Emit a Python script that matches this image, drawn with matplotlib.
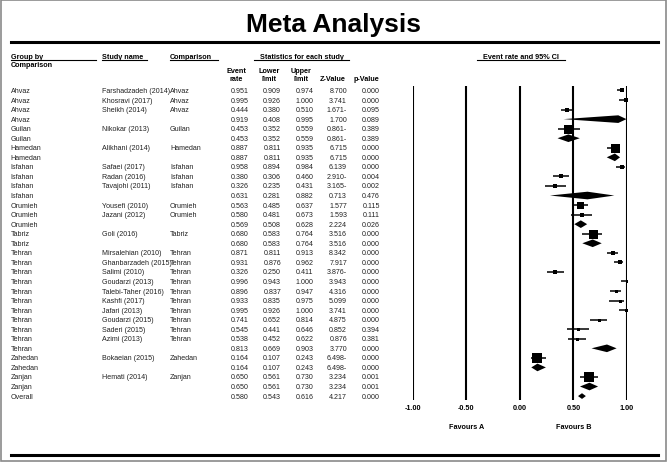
import matplotlib
matplotlib.use("Agg")
import matplotlib.pyplot as plt
from matplotlib import font_manager
from matplotlib.transforms import blended_transform_factory
from matplotlib.patches import Rectangle

plt.rcParams['font.family'] = ['Liberation Sans', 'DejaVu Sans']

# --- data ---
groups = ['Ahvaz', 'Ahvaz', 'Ahvaz', 'Ahvaz', 'Guilan', 'Guilan', 'Hamedan', 'Hamedan',
          'Isfahan', 'Isfahan', 'Isfahan', 'Isfahan', 'Orumieh', 'Orumieh', 'Orumieh',
          'Tabriz', 'Tabriz'] + ['Tehran'] * 11 + ['Zahedan', 'Zahedan', 'Zanjan', 'Zanjan', 'Overall']
studies = ['Farshadzadeh (2014)', 'Khosravi (2017)', 'Sheikh (2014)', '',
           'Nikokar (2013)', '', 'Alikhani (2014)', '',
           'Safaei (2017)', 'Radan (2016)', 'Tavajohi (2011)', '',
           'Yousefi (2010)', 'Jazani (2012)', '', 'Goli (2016)', '',
           'Mirsalehian (2010)', 'Ghanbarzadeh (2015)', 'Salimi (2010)', 'Goudarzi (2013)',
           'Talebi-Taher (2016)', 'Kashfi (2017)', 'Jafari (2013)', 'Goudarzi (2015)',
           'Saderi (2015)', 'Azimi (2013)', '',
           'Bokaeian (2015)', '', 'Hemati (2014)', '', '']
rates = [0.951, 0.995, 0.444, 0.919, 0.453, 0.453, 0.887, 0.887, 0.958, 0.380, 0.326, 0.631,
         0.563, 0.580, 0.569, 0.680, 0.680, 0.871, 0.931, 0.326, 0.996, 0.896, 0.933, 0.995,
         0.741, 0.545, 0.538, 0.813, 0.164, 0.164, 0.650, 0.650, 0.580]
lower = [0.909, 0.926, 0.380, 0.408, 0.352, 0.352, 0.811, 0.811, 0.894, 0.306, 0.235, 0.281,
         0.485, 0.481, 0.508, 0.583, 0.583, 0.811, 0.876, 0.250, 0.943, 0.837, 0.835, 0.926,
         0.652, 0.441, 0.452, 0.669, 0.107, 0.107, 0.561, 0.561, 0.543]
upper = [0.974, 1.000, 0.510, 0.995, 0.559, 0.559, 0.935, 0.935, 0.984, 0.460, 0.431, 0.882,
         0.637, 0.673, 0.628, 0.764, 0.764, 0.913, 0.962, 0.411, 1.000, 0.947, 0.975, 1.000,
         0.814, 0.646, 0.622, 0.903, 0.243, 0.243, 0.730, 0.730, 0.616]
zvals = [8.700, 3.741, -1.671, 1.700, -0.861, -0.861, 6.715, 6.715, 6.139, -2.910, -3.165, 0.713,
         1.577, 1.593, 2.224, 3.516, 3.516, 8.342, 7.917, -3.876, 3.943, 4.316, 5.099, 3.741,
         4.875, 0.852, 0.876, 3.770, -6.498, -6.498, 3.234, 3.234, 4.217]
pvals = [0.000, 0.000, 0.095, 0.089, 0.389, 0.389, 0.000, 0.000, 0.000, 0.004, 0.002, 0.476,
         0.115, 0.111, 0.026, 0.000, 0.000, 0.000, 0.000, 0.000, 0.000, 0.000, 0.000, 0.000,
         0.000, 0.394, 0.381, 0.000, 0.000, 0.000, 0.001, 0.001, 0.000]
# box size (px) of each study square, as drawn
box_px = {'Farshadzadeh (2014)': 5, 'Khosravi (2017)': 4, 'Sheikh (2014)': 5, 'Nikokar (2013)': 9,
          'Alikhani (2014)': 9, 'Safaei (2017)': 5, 'Radan (2016)': 5, 'Tavajohi (2011)': 5,
          'Yousefi (2010)': 7, 'Jazani (2012)': 5, 'Goli (2016)': 9, 'Mirsalehian (2010)': 4,
          'Ghanbarzadeh (2015)': 4, 'Salimi (2010)': 4, 'Goudarzi (2013)': 3,
          'Talebi-Taher (2016)': 3, 'Kashfi (2017)': 3, 'Jafari (2013)': 3, 'Goudarzi (2015)': 3,
          'Saderi (2015)': 3, 'Azimi (2013)': 3, 'Bokaeian (2015)': 10, 'Hemati (2014)': 10}
xticks = [-1.0, -0.5, 0.0, 0.5, 1.0]

W, H = 668, 464
fig = plt.figure(figsize=(W / 100, H / 100), dpi=100)
fig.patch.set_facecolor('white')

bg = fig.add_axes([0, 0, 1, 1])
bg.set_xlim(0, W)
bg.set_ylim(H, 0)
bg.axis('off')

# forest panel: x -1..1 over px 412.7..627, rows -0.5..32.4 over px 86.7..400.7
fx0, fx1, fy0, fy1 = 412.7, 627.0, 86.7, 400.7
fax = fig.add_axes([fx0 / W, 1 - fy1 / H, (fx1 - fx0) / W, (fy1 - fy0) / H])
fax.set_xlim(-1, 1)
fax.set_ylim(32.38, -0.5)
fax.patch.set_alpha(0)
for s in fax.spines.values():
    s.set_visible(False)
fax.set_yticks([])
fax.set_xticks(xticks)
fax.set_xticklabels(['%.2f' % t for t in xticks], fontsize=5.2, fontweight='bold')
fax.tick_params(axis='x', length=0, pad=3.2)
for t in xticks:
    fax.axvline(t, color='black', lw=1.5)

# outer frame and rules
bg.add_patch(Rectangle((1, 1), W - 3, H - 3, fill=False, ec='#8a8a8a', lw=1.2))
bg.plot([10.7, 658], [43, 43], color='black', lw=2.2)
bg.plot([10.7, 658], [456, 456], color='black', lw=2.2)

names = {f.name for f in font_manager.fontManager.ttflist}
if 'Liberation Sans Narrow' in names:
    bg.text(334, 31.7, 'Meta Analysis', fontsize=21.5, fontweight='bold',
            family='Liberation Sans Narrow', ha='center', va='baseline')
else:
    bg.text(334, 31.7, 'Meta Analysis', fontsize=19, fontweight='bold',
            ha='center', va='baseline')

# headers
hs = 5.2
bg.text(10.7, 57.5, 'Group by', fontsize=hs, fontweight='bold', va='center')
bg.text(10.7, 65.5, 'Comparison', fontsize=hs, fontweight='bold', va='center')
bg.text(101.7, 57.5, 'Study name', fontsize=hs, fontweight='bold', va='center')
bg.text(170, 57.5, 'Comparison', fontsize=hs, fontweight='bold', va='center')
bg.text(302, 57.5, 'Statistics for each study', fontsize=hs, fontweight='bold',
        ha='center', va='center')
bg.text(521, 57.5, 'Event rate and 95% CI', fontsize=hs, fontweight='bold',
        ha='center', va='center')
for x0, x1 in [(10.7, 96), (101.7, 147.3), (170, 218.3), (254, 349.3), (477, 565)]:
    bg.plot([x0, x1], [61, 61], color='black', lw=0.8)

col_right = [248.5, 281, 313.5, 347, 380]
sub_top = ['Event', 'Lower', 'Upper', '', '']
sub_bot = ['rate', 'limit', 'limit', 'Z-Value', 'p-Value']
for xr, a, b in zip(col_right, sub_top, sub_bot):
    xc = xr - 12 if a else xr - 14
    bg.text(xc, 71.5, a, fontsize=hs, fontweight='bold', ha='center', va='center')
    bg.text(xc, 79.5, b, fontsize=hs, fontweight='bold', ha='center', va='center')

# table rows
tr = blended_transform_factory(bg.transData, fax.transData)
ds = 5.1
tc = '#222222'
for i in range(len(rates)):
    z = zvals[i]
    zs = '%.3f-' % abs(z) if z < 0 else '%.3f' % z
    cells = ['%.3f' % rates[i], '%.3f' % lower[i], '%.3f' % upper[i], zs, '%.3f' % pvals[i]]
    bg.text(10.7, i, groups[i], transform=tr, fontsize=ds, color=tc, va='center')
    if studies[i]:
        bg.text(101.7, i, studies[i], transform=tr, fontsize=ds, color=tc, va='center')
        bg.text(170, i, groups[i], transform=tr, fontsize=ds, color=tc, va='center')
    for xr, c in zip(col_right, cells):
        bg.text(xr, i, c, transform=tr, fontsize=ds, color=tc, ha='right', va='center')

# forest marks
for i in range(len(rates)):
    if studies[i]:
        fax.plot([lower[i], upper[i]], [i, i], color='black', lw=1.1, solid_capstyle='butt')
        fax.plot(rates[i], i, marker='s', color='black', ms=box_px[studies[i]] * 0.72, mew=0)
    else:
        h = 0.3 if groups[i] == 'Overall' else 0.4
        fax.fill([lower[i], rates[i], upper[i], rates[i]], [i, i - h, i, i + h],
                 color='black', lw=0)

bg.text(-0.5, 428, 'Favours A', transform=blended_transform_factory(fax.transData, bg.transData),
        fontsize=hs, fontweight='bold', ha='center', va='center')
bg.text(0.5, 428, 'Favours B', transform=blended_transform_factory(fax.transData, bg.transData),
        fontsize=hs, fontweight='bold', ha='center', va='center')

fig.savefig('out.png', dpi=100)
